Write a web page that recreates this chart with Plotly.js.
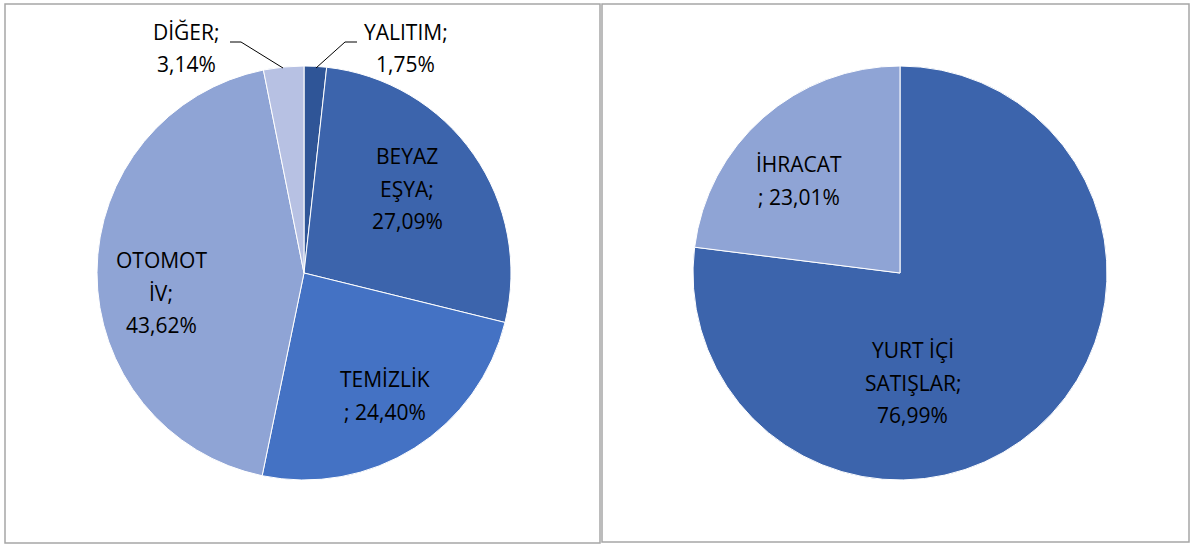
<!DOCTYPE html>
<html>
<head>
<meta charset="utf-8">
<script src="https://cdn.plot.ly/plotly-3.0.1.min.js"></script>
<style>html,body{margin:0;padding:0;background:#fff;}#chart{width:1193px;height:545px;}</style>
</head>
<body>
<div id="chart"></div>
<script>
// Left pie: sectors
const sectorCategories = ["YALITIM", "BEYAZ EŞYA", "TEMİZLİK", "OTOMOTİV", "DİĞER"];
const sectorLabelText = ["YALITIM;", "BEYAZ<br>EŞYA;", "TEMİZLİK<br>;", "OTOMOT<br>İV;", "DİĞER;"];
const sectorValues = [1.75, 27.09, 24.40, 43.62, 3.14];
const sectorColors = ["#2F5597", "#3C64AC", "#4472C4", "#8FA4D5", "#B7C1E3"];

// Right pie: sales
const salesCategories = ["YURT İÇİ SATIŞLAR", "İHRACAT"];
const salesLabelText = ["YURT İÇİ<br>SATIŞLAR;", "İHRACAT<br>;"];
const salesValues = [76.99, 23.01];
const salesColors = ["#3C64AC", "#8FA4D5"];

const W = 1193, H = 545;
const px = x => x / W;
const py = y => 1 - y / H;
const fmt = v => v.toFixed(2).replace('.', ',') + '%';
const FONT = "Open Sans, sans-serif";

function labelLines(lbl, v) {
  const parts = lbl.split('<br>');
  if (parts[parts.length - 1] === ';') {
    parts[parts.length - 1] = '; ' + fmt(v);
  } else {
    parts.push(fmt(v));
  }
  return parts;
}

const traces = [
  {
    type: 'pie', values: sectorValues, labels: sectorCategories, sort: false,
    direction: 'clockwise', rotation: 0,
    marker: {colors: sectorColors, line: {color: '#ffffff', width: 1}},
    textinfo: 'none', hoverinfo: 'label+percent', showlegend: false,
    domain: {x: [px(97), px(511)], y: [py(480), py(66)]}
  },
  {
    type: 'pie', values: salesValues, labels: salesCategories, sort: false,
    direction: 'clockwise', rotation: 0,
    marker: {colors: salesColors, line: {color: '#ffffff', width: 1}},
    textinfo: 'none', hoverinfo: 'label+percent', showlegend: false,
    domain: {x: [px(693), px(1107)], y: [py(480), py(66)]}
  }
];

// label placement: [center x, first line y] in pixels, line spacing 32.5
const sectorLabelPos = [[406, 32], [407, 156], [385, 379], [161, 260], [186, 32]];
const salesLabelPos = [[913, 350], [799, 164]];
const LINE = 32.5;

const annotations = [];
function addLabels(texts, values, pos) {
  texts.forEach((t, i) => {
    labelLines(t, values[i]).forEach((line, k) => {
      annotations.push({
        xref: 'paper', yref: 'paper', x: px(pos[i][0]), y: py(pos[i][1] + k * LINE),
        xanchor: 'center', yanchor: 'middle', showarrow: false, align: 'center',
        text: line,
        font: {family: FONT, size: 21, color: '#000000'}
      });
    });
  });
}
addLabels(sectorLabelText, sectorValues, sectorLabelPos);
addLabels(salesLabelText, salesValues, salesLabelPos);

const border = '#A6A6A6';
const shapes = [
  {type: 'rect', xref: 'paper', yref: 'paper', x0: px(5), x1: px(600), y0: py(543), y1: py(4), line: {color: border, width: 1.5}},
  {type: 'rect', xref: 'paper', yref: 'paper', x0: px(602), x1: px(1189), y0: py(542), y1: py(4), line: {color: border, width: 1.5}}
];
function leader(pts) {
  for (let i = 0; i < pts.length - 1; i++) {
    shapes.push({type: 'line', xref: 'paper', yref: 'paper',
      x0: px(pts[i][0]), y0: py(pts[i][1]), x1: px(pts[i + 1][0]), y1: py(pts[i + 1][1]),
      line: {color: '#000000', width: 1}});
  }
}
leader([[230, 42], [241, 42], [283, 68]]);
leader([[357, 42], [345, 42], [316, 68]]);

Plotly.newPlot('chart', traces, {
  width: W, height: H, margin: {l: 0, r: 0, t: 0, b: 0},
  paper_bgcolor: '#ffffff', plot_bgcolor: '#ffffff',
  annotations: annotations, shapes: shapes
}, {displayModeBar: false, staticPlot: true});
</script>
</body>
</html>
